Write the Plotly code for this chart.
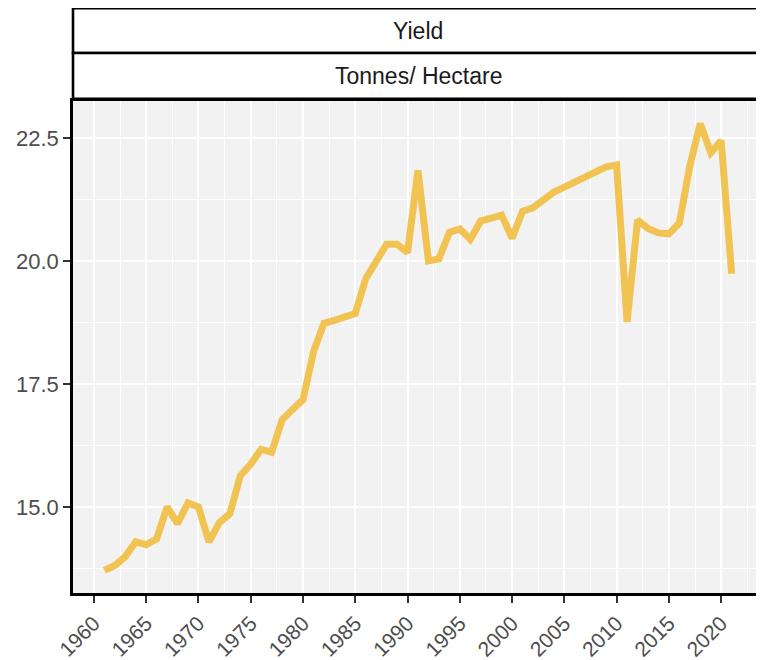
import plotly.graph_objects as go

years = list(range(1961, 2022))
yield_t_ha = [13.71, 13.81, 13.99, 14.29, 14.23, 14.35, 15.00, 14.66, 15.08, 15.00,
              14.29, 14.68, 14.86, 15.63, 15.87, 16.17, 16.11, 16.77, 16.98, 17.18,
              18.15, 18.73, 18.79, 18.87, 18.93, 19.64, 20.00, 20.34, 20.34, 20.17,
              21.84, 20.00, 20.04, 20.58, 20.65, 20.44, 20.81, 20.87, 20.93, 20.46,
              21.01, 21.08, 21.25, 21.40, 21.50, 21.60, 21.71, 21.81, 21.91, 21.95,
              18.76, 20.83, 20.66, 20.57, 20.55, 20.77, 21.93, 22.79, 22.20, 22.44,
              19.74]
x_ticks = list(range(1960, 2021, 5))
y_ticks = [15.0, 17.5, 20.0, 22.5]
strip_top = "Yield"
strip_bottom = "Tonnes/ Hectare"

# page body has an 8px margin; compensate so the picture lands where intended
OFF = 8
W, H = 764 - OFF, 660
L, R, T = 73 - OFF, 1, 101 - OFF
panel_bottom = 593
B = H - (panel_bottom - OFF)
ph = H - T - B
FONT = "Liberation Sans, Arial, sans-serif"

def py2paper(py):
    # py in window pixels
    return (panel_bottom - py) / ph

fig = go.Figure()
fig.add_trace(go.Scatter(x=years, y=yield_t_ha, mode="lines",
                         line=dict(color="rgb(241,195,82)", width=7),
                         showlegend=False))

axis_common = dict(showline=True, linecolor="black", linewidth=2.5, mirror=True,
                   ticks="outside", ticklen=7, tickwidth=1.5, tickcolor="#333333",
                   showgrid=True, gridcolor="white", gridwidth=1.6, zeroline=False,
                   automargin=False)

fig.update_xaxes(range=[1958, 2024], tickvals=x_ticks, tickangle=-45,
                 tickfont=dict(family=FONT, size=21, color="#4D4D4D"),
                 minor=dict(dtick=2.5, tick0=1957.5, showgrid=True, gridcolor="white", gridwidth=0.9),
                 **axis_common)
fig.update_yaxes(range=[13.25, 23.25], tickvals=y_ticks, tickformat=".1f",
                 tickfont=dict(family=FONT, size=22, color="#4D4D4D"),
                 minor=dict(dtick=1.25, tick0=13.75, showgrid=True, gridcolor="white", gridwidth=0.9),
                 **axis_common)

# strips
for (y0, y1, txt) in [(53, 8.3, strip_top), (98.7, 53, strip_bottom)]:
    fig.add_shape(type="rect", xref="paper", yref="paper", x0=0, x1=1,
                  y0=py2paper(y0), y1=py2paper(y1), fillcolor="white",
                  line=dict(color="black", width=2.6), layer="above")
    fig.add_annotation(xref="paper", yref="paper", x=0.5, y=(py2paper(y0) + py2paper(y1)) / 2,
                       text=txt, showarrow=False, xanchor="center", yanchor="middle",
                       font=dict(family=FONT, size=23, color="#1A1A1A"))

fig.update_layout(width=W, height=H, margin=dict(l=L, r=R, t=T, b=B),
                  plot_bgcolor="#F2F2F2", paper_bgcolor="white", showlegend=False)

fig.write_html("out.html")
